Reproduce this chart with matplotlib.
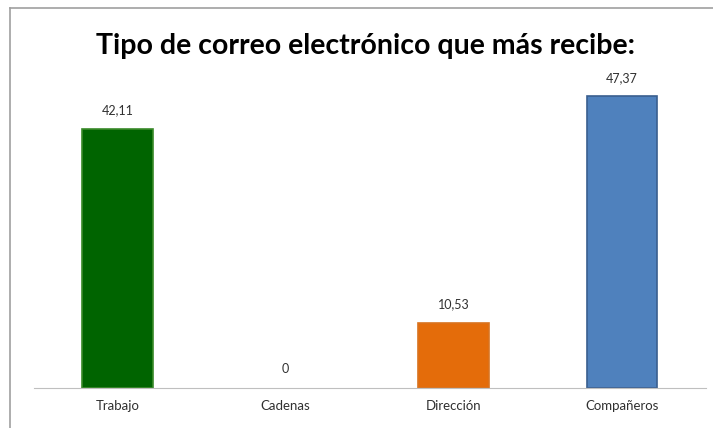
import matplotlib
matplotlib.use("Agg")
import matplotlib.pyplot as plt
from matplotlib.lines import Line2D

# data
categorias = ["Trabajo", "Cadenas", "Dirección", "Compañeros"]
valores = [42.11, 0, 10.53, 47.37]
etiquetas = ["42,11", "0", "10,53", "47,37"]
colores = ["#006400", "#7F7F7F", "#E46C0A", "#4F81BD"]
bordes = ["#3A8A2A", "none", "#D9731F", "#3A5F8F"]

plt.rcParams['font.family'] = ['Lato', 'DejaVu Sans']

fig = plt.figure(figsize=(7.13, 4.28), dpi=100)
ax = fig.add_axes([0.047, 0.0935, 0.943, 0.7196])

x = range(len(categorias))
ax.bar(x, valores, width=0.42, color=colores, edgecolor=bordes, linewidth=1.2)

for i, v in enumerate(valores):
    ax.annotate(etiquetas[i], (i, v), xytext=(0, 9), textcoords="offset points",
                ha="center", va="bottom", fontsize=9, color="#303030")

ax.set_xlim(-0.5, 3.5)
ax.set_ylim(0, 50)
ax.set_xticks(list(x))
ax.set_xticklabels(categorias, fontsize=9.5, color="#303030")
ax.tick_params(axis="x", length=0, pad=9)
ax.set_yticks([])
for s in ["top", "right", "left"]:
    ax.spines[s].set_visible(False)
ax.spines["bottom"].set_color("#BFBFBF")

# chart frame (left and top edges only, rest is cut off)
fx = 10 / 713
fy = 1 - 8 / 428
fig.lines.append(Line2D([fx, fx], [0.0, fy], transform=fig.transFigure,
                        color="#A0A0A0", linewidth=1.2))
fig.lines.append(Line2D([fx, 1.0], [fy, fy], transform=fig.transFigure,
                        color="#A0A0A0", linewidth=1.2))

fig.text(0.512, 0.893, "Tipo de correo electrónico que más recibe:",
         ha="center", va="center", fontsize=20.5, fontweight="bold", color="black")

fig.savefig("out.png", dpi=100)
